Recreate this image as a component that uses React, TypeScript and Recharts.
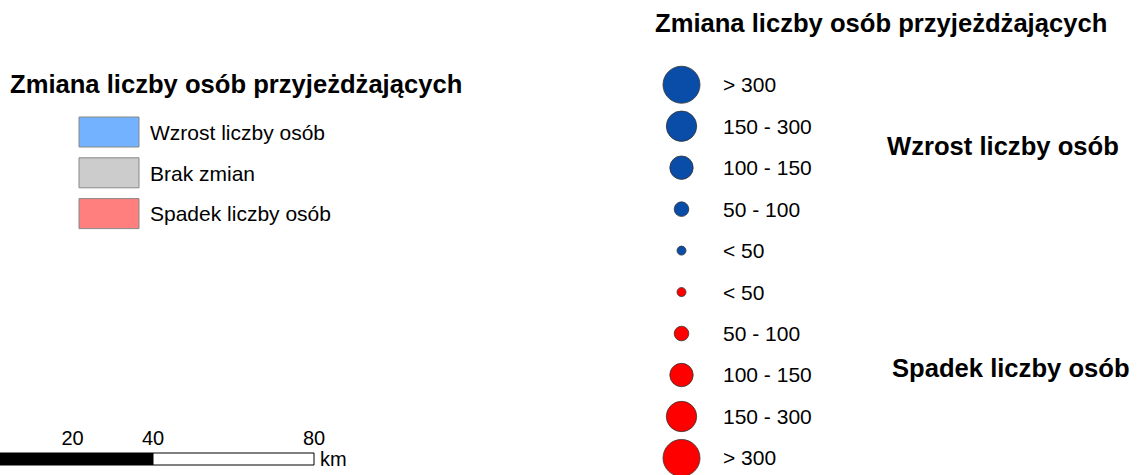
import {
  BarChart, Bar, ScatterChart, Scatter, XAxis, YAxis, Cell, LabelList
} from "recharts";

const FONT = '"Liberation Sans", Arial, sans-serif';

// legenda powierzchniowa (lewa strona)
const kategorie = ["Wzrost liczby osób", "Brak zmian", "Spadek liczby osób"];
const kolorySwatch = ["#73B2FF", "#CCCCCC", "#FF7F7F"];

// legenda sygnatur punktowych (prawa strona)
const klasyWzrost = ["> 300", "150 - 300", "100 - 150", "50 - 100", "< 50"];
const rangiWzrost = [4, 3, 2, 1, 0];
const klasySpadek = ["< 50", "50 - 100", "100 - 150", "150 - 300", "> 300"];
const rangiSpadek = [0, 1, 2, 3, 4];
const promienie = [4.5, 7.3, 11.7, 15.2, 18.5];

// podziałka liniowa (km)
const podzialkaTicks = [20, 40, 80];
const odcinkiPodzialki = { czarny: 40, bialy: 40 };

const swatchData = kategorie.map((k, i) => ({ kat: k, v: 1, fill: kolorySwatch[i] }));
const wzrostData = klasyWzrost.map((k, i) => ({ id: `w${i}`, klasa: k, ranga: rangiWzrost[i] }));
const spadekData = klasySpadek.map((k, i) => ({ id: `s${i}`, klasa: k, ranga: rangiSpadek[i] }));
const etykiety: Record<string, string> = {};
[...wzrostData, ...spadekData].forEach((d) => (etykiety[d.id] = d.klasa));
const skalaData = [{ nazwa: "skala", ...odcinkiPodzialki }];

const makeShape = (fill: string) => (p: any) => (
  <circle cx={p.cx} cy={p.cy} r={promienie[p.payload.ranga]} fill={fill} stroke="#333" strokeWidth={0.8} />
);

const title: React.CSSProperties = {
  position: "absolute", fontFamily: FONT, fontWeight: "bold", fontSize: 25.6,
  lineHeight: "25px", whiteSpace: "nowrap", color: "#000",
};

export default function App() {
  return (
    <div style={{ position: "absolute", left: 0, top: 0, width: 1137, height: 475, overflow: "hidden", background: "#fff" }}>
      <div style={{ ...title, left: 10, top: 72 }}>Zmiana liczby osób przyjeżdżających</div>
      <div style={{ ...title, left: 655, top: 10.5 }}>Zmiana liczby osób przyjeżdżających</div>
      <div style={{ ...title, left: 887, top: 134 }}>Wzrost liczby osób</div>
      <div style={{ ...title, left: 892, top: 355.5 }}>Spadek liczby osób</div>

      <div style={{ position: "absolute", left: 0, top: 0 }}>
        <BarChart width={380} height={260} data={swatchData} layout="vertical"
          margin={{ top: 112, right: 0, bottom: 25.6, left: 79 }} barSize={30}>
          <XAxis type="number" domain={[0, 1]} hide />
          <YAxis type="category" dataKey="kat" orientation="right" width={241}
            axisLine={false} tickLine={false} tickSize={0} tickMargin={11}
            tick={{ fill: "#000", fontSize: 21, fontFamily: FONT }} />
          <Bar dataKey="v" isAnimationActive={false} stroke="#888" strokeWidth={1}>
            {swatchData.map((d) => <Cell key={d.kat} fill={d.fill} />)}
          </Bar>
        </BarChart>
      </div>

      <div style={{ position: "absolute", left: 640, top: 0 }}>
        <ScatterChart width={497} height={480} margin={{ top: 64, right: 315.5, bottom: 1.3, left: 21.5 }}>
          <XAxis type="number" dataKey={() => 0} domain={[-1, 1]} hide />
          <YAxis type="category" dataKey="id" orientation="right" width={120} reversed
            allowDuplicatedCategory={false}
            axisLine={false} tickLine={false} tickSize={0} tickMargin={21.5}
            tickFormatter={(v: string) => etykiety[v]}
            tick={{ fill: "#000", fontSize: 21, fontFamily: FONT }} />
          <Scatter data={wzrostData} isAnimationActive={false} shape={makeShape("#0A4DA8")} />
          <Scatter data={spadekData} isAnimationActive={false} shape={makeShape("#FF0000")} />
        </ScatterChart>
      </div>

      <div style={{ position: "absolute", left: -8, top: 423 }}>
        <BarChart width={380} height={50} data={skalaData} layout="vertical"
          margin={{ top: 0, right: 58, bottom: 8, left: 0 }} barCategoryGap={0}>
          <XAxis type="number" domain={[0, 80]} ticks={podzialkaTicks} orientation="top" height={30}
            axisLine={false} tickLine={false} tickSize={0} tickMargin={8}
            tick={{ fill: "#000", fontSize: 20, fontFamily: FONT }} />
          <YAxis type="category" dataKey="nazwa" hide />
          <Bar dataKey="czarny" stackId="a" fill="#000" stroke="#000" strokeWidth={1} isAnimationActive={false} />
          <Bar dataKey="bialy" stackId="a" fill="#fff" stroke="#000" strokeWidth={1} isAnimationActive={false}>
            <LabelList position="right" offset={6} valueAccessor={() => "km"}
              style={{ fill: "#000", fontSize: 20, fontFamily: FONT }} />
          </Bar>
        </BarChart>
      </div>
    </div>
  );
}
